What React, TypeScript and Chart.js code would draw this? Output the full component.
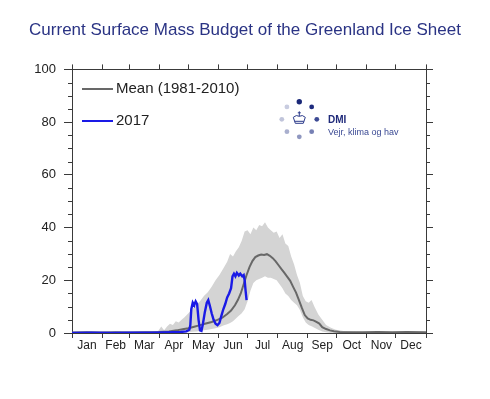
import React, { useEffect, useRef } from 'react';
import { Chart, registerables } from 'chart.js';

Chart.register(...registerables);

const TITLE = 'Current Surface Mass Budget of the Greenland Ice Sheet';
const MONTHS = ['Jan', 'Feb', 'Mar', 'Apr', 'May', 'Jun', 'Jul', 'Aug', 'Sep', 'Oct', 'Nov', 'Dec'];
const MONTH_STARTS = [0, 31, 59, 90, 120, 151, 181, 212, 243, 273, 304, 334, 365];
const Y_MAJOR = [0, 20, 40, 60, 80, 100];
const LEGEND_MEAN = 'Mean (1981-2010)';
const LEGEND_YEAR = '2017';

// [day of year, value]
const meanCurve: [number, number][] = [
  [0, 0.2], [15, 0.3], [30, 0.2], [45, 0.3], [60, 0.2], [75, 0.3], [90, 0.4], [100, 0.6],
  [108, 1.0], [114, 1.4], [120, 1.8], [126, 2.4], [132, 3.0], [138, 3.6], [144, 4.2],
  [150, 5.0], [155, 5.8], [160, 7.2], [164, 8.5], [168, 10.5], [171, 12.5], [174, 15],
  [177, 18.5], [180, 22], [183, 25], [186, 27.3], [189, 28.8], [192, 29.4], [195, 29.8],
  [198, 29.6], [201, 29.9], [204, 29.3], [207, 28.4], [210, 27.2], [213, 25.7], [216, 24.2],
  [219, 22.8], [222, 21.3], [225, 19.8], [228, 17.5], [231, 15.3], [234, 12.5], [237, 9.5],
  [240, 6.8], [243, 5.5], [246, 5.0], [249, 4.8], [252, 4.2], [255, 3.6], [258, 2.2],
  [262, 1.5], [266, 1.0], [270, 0.7], [276, 0.4], [285, 0.3], [300, 0.3], [315, 0.4],
  [330, 0.3], [345, 0.4], [365, 0.3],
];

// [day of year, low, high]
const rangeBand: [number, number, number][] = [
  [0, 0, 0.3], [88, 0, 0.3], [92, 0, 2.5], [95, 0, 1], [98, 0, 2.5], [101, 0, 3.5], [104, 0, 3],
  [107, 0, 4.5], [110, 0, 4], [113, 0, 5], [116, 0.2, 6], [120, 0.3, 7.5], [124, 0.5, 9],
  [128, 0.6, 10.5], [132, 0.8, 12], [136, 1, 14], [140, 1.2, 15.5], [144, 1.5, 17.5],
  [148, 1.8, 20], [152, 2.2, 22], [156, 2.8, 24.5], [160, 3.3, 27], [163, 3.8, 30],
  [166, 4.5, 29], [169, 5.5, 31], [172, 6.5, 32.5], [175, 7.5, 35], [178, 9, 38.5],
  [181, 12, 39], [184, 16, 37.5], [187, 19, 40], [190, 20, 39], [193, 20.5, 41],
  [196, 21, 40.5], [199, 21.5, 42], [202, 21, 40], [205, 21, 39], [208, 20.5, 38],
  [211, 20, 38.5], [214, 18.5, 36], [217, 17, 37.5], [220, 15, 34], [223, 14, 33],
  [226, 12.5, 29], [229, 11.5, 26], [232, 10.5, 22], [235, 8.7, 19], [238, 6, 14],
  [241, 4, 12], [244, 3, 11.5], [247, 2.6, 12.5], [250, 2, 10], [254, 1.2, 7],
  [258, 0.6, 5], [262, 0.3, 3], [267, 0, 2], [272, 0, 1.2], [280, 0, 0.8], [290, 0, 0.5],
  [300, 0, 0.4], [365, 0, 0.4],
];

// [day of year, value]
const year2017: [number, number][] = [
  [0, 0], [20, 0.1], [40, 0], [60, 0.1], [80, 0.1], [95, 0.2], [105, 0.3], [112, 0.4],
  [118, 0.6], [121, 1.2], [122, 3], [123, 9], [124.5, 11.5], [126, 10.5], [127.5, 12],
  [129, 11], [130.5, 5], [132, 1], [133.5, 0.8], [135, 3.5], [137, 8], [139, 11.5],
  [140.5, 12.5], [142, 10.5], [144, 7.5], [146, 5], [148, 3.5], [150, 3], [152, 3.8],
  [154, 6.5], [156, 9], [158, 11], [160, 13.5], [162, 15], [164, 17], [165.5, 21.5],
  [167, 22.5], [168.5, 21.5], [170, 22.8], [172, 21.8], [173.5, 22.5], [175.5, 21.5],
  [177, 22], [178, 20], [179, 16], [180, 12.5],
];

const FONT = '"Liberation Sans", Arial, Helvetica, sans-serif';
const AXIS_COLOR = '#3a3a3a';
const MEAN_COLOR = '#686868';
const YEAR_COLOR = '#1a1ae6';
const BAND_COLOR = '#d4d4d4';

const X_TICKS: number[] = [];
MONTH_STARTS.forEach((s, i) => {
  X_TICKS.push(s);
  if (i < MONTH_STARTS.length - 1) X_TICKS.push((s + MONTH_STARTS[i + 1]) / 2);
});

const decorPlugin = {
  id: 'decor',
  afterDraw(chart: any) {
    const ctx = chart.ctx as CanvasRenderingContext2D;
    const area = chart.chartArea;
    const y = chart.scales.y;
    ctx.save();
    // minor y ticks
    ctx.strokeStyle = AXIS_COLOR;
    ctx.lineWidth = 1;
    for (let v = 0; v <= 100; v += 5) {
      if (Y_MAJOR.includes(v)) continue;
      const py = Math.round(y.getPixelForValue(v)) + 0.5;
      ctx.beginPath();
      ctx.moveTo(area.left - 4, py);
      ctx.lineTo(area.left, py);
      ctx.moveTo(area.right, py);
      ctx.lineTo(area.right + 4, py);
      ctx.stroke();
    }
    // legend
    const lx = area.left + 10;
    const items: [string, string, number][] = [
      [LEGEND_MEAN, MEAN_COLOR, 92.5],
      [LEGEND_YEAR, YEAR_COLOR, 80.5],
    ];
    ctx.font = `15px ${FONT}`;
    ctx.textBaseline = 'middle';
    ctx.textAlign = 'left';
    items.forEach(([label, color, val]) => {
      const py = Math.round(y.getPixelForValue(val));
      ctx.strokeStyle = color;
      ctx.lineWidth = 2;
      ctx.beginPath();
      ctx.moveTo(lx, py);
      ctx.lineTo(lx + 31, py);
      ctx.stroke();
      ctx.fillStyle = '#222';
      ctx.fillText(label, lx + 34, py);
    });
    // DMI logo
    const cx = 299.3;
    const cy = 119.3;
    const r = 17.5;
    const dotColors = ['#1a2878', '#1e2b7e', '#3d4a94', '#7680b4', '#8f97c0', '#a9afce', '#c0c4da', '#c8cce0'];
    dotColors.forEach((c, i) => {
      const a = -Math.PI / 2 + (i * Math.PI) / 4;
      ctx.fillStyle = c;
      ctx.beginPath();
      ctx.arc(cx + r * Math.cos(a), cy + r * Math.sin(a), i === 0 ? 2.7 : 2.4, 0, Math.PI * 2);
      ctx.fill();
    });
    ctx.strokeStyle = '#2b3a8a';
    ctx.lineWidth = 1;
    ctx.beginPath();
    ctx.moveTo(cx - 6, cy - 2);
    ctx.quadraticCurveTo(cx - 3, cy - 5, cx, cy - 3);
    ctx.quadraticCurveTo(cx + 3, cy - 5, cx + 6, cy - 2);
    ctx.lineTo(cx + 4, cy + 4);
    ctx.lineTo(cx - 4, cy + 4);
    ctx.closePath();
    ctx.moveTo(cx - 4.5, cy + 2);
    ctx.lineTo(cx + 4.5, cy + 2);
    ctx.moveTo(cx, cy - 3);
    ctx.lineTo(cx, cy - 8);
    ctx.moveTo(cx - 1.5, cy - 6.5);
    ctx.lineTo(cx + 1.5, cy - 6.5);
    ctx.stroke();
    ctx.fillStyle = '#1f2a7a';
    ctx.font = `bold 10px ${FONT}`;
    ctx.fillText('DMI', 328, 120);
    ctx.fillStyle = '#3b4a94';
    ctx.font = `9px ${FONT}`;
    ctx.fillText('Vejr, klima og hav', 328, 132.5);
    ctx.restore();
  },
};

export default function App() {
  const ref = useRef<HTMLCanvasElement>(null);
  useEffect(() => {
    const majorTickColor = (c: any) => (Y_MAJOR.includes(c.tick?.value) ? AXIS_COLOR : 'rgba(0,0,0,0)');
    const chart = new Chart(ref.current as HTMLCanvasElement, {
      type: 'line',
      data: {
        datasets: [
          {
            label: LEGEND_YEAR,
            data: year2017.map(([x, v]) => ({ x, y: v })),
            borderColor: YEAR_COLOR,
            borderWidth: 2.4,
            pointRadius: 0,
            tension: 0,
            fill: false,
          },
          {
            label: LEGEND_MEAN,
            data: meanCurve.map(([x, v]) => ({ x, y: v })),
            borderColor: MEAN_COLOR,
            borderWidth: 2,
            pointRadius: 0,
            tension: 0,
            fill: false,
          },
          {
            label: 'max',
            data: rangeBand.map(([x, , hi]) => ({ x, y: hi })),
            borderWidth: 0,
            borderColor: 'rgba(0,0,0,0)',
            backgroundColor: BAND_COLOR,
            pointRadius: 0,
            tension: 0,
            fill: 3,
          },
          {
            label: 'min',
            data: rangeBand.map(([x, lo]) => ({ x, y: lo })),
            borderWidth: 0,
            borderColor: 'rgba(0,0,0,0)',
            pointRadius: 0,
            tension: 0,
            fill: false,
          },
        ],
      },
      options: {
        responsive: false,
        animation: false,
        devicePixelRatio: 1,
        layout: { padding: 0 },
        plugins: {
          legend: { display: false },
          tooltip: { enabled: false },
          title: {
            display: true,
            text: TITLE,
            color: '#2a3384',
            font: { size: 17, family: FONT, weight: 'normal' },
            padding: { top: 20, bottom: 19 },
          },
        },
        scales: {
          x: {
            type: 'linear',
            position: 'bottom',
            min: 0,
            max: 365,
            afterBuildTicks: (s: any) => {
              s.ticks = X_TICKS.map((v) => ({ value: v }));
            },
            afterFit: (s: any) => {
              s.height = 66;
            },
            ticks: {
              autoSkip: false,
              maxRotation: 0,
              padding: 0,
              color: '#222',
              font: { size: 12, family: FONT },
              callback: (_v: any, i: number) => (i % 2 === 1 ? MONTHS[(i - 1) / 2] : ''),
            },
            grid: {
              drawOnChartArea: false,
              tickLength: 5,
              tickColor: (c: any) => (c.index % 2 === 0 ? AXIS_COLOR : 'rgba(0,0,0,0)'),
            },
            border: { color: AXIS_COLOR, width: 1 },
          },
          x2: {
            type: 'linear',
            position: 'top',
            min: 0,
            max: 365,
            afterBuildTicks: (s: any) => {
              s.ticks = MONTH_STARTS.map((v) => ({ value: v }));
            },
            afterFit: (s: any) => {
              s.height = 10;
            },
            ticks: { display: false },
            grid: { drawOnChartArea: false, tickLength: 5, tickColor: AXIS_COLOR },
            border: { color: AXIS_COLOR, width: 1 },
          },
          y: {
            type: 'linear',
            position: 'left',
            min: 0,
            max: 100,
            afterFit: (s: any) => {
              s.width = 72;
            },
            ticks: {
              stepSize: 5,
              autoSkip: false,
              padding: 8,
              color: '#222',
              font: { size: 13, family: FONT },
              callback: (v: any) => (Y_MAJOR.includes(Number(v)) ? String(v) : ''),
            },
            grid: { drawOnChartArea: false, tickLength: 8, tickColor: majorTickColor },
            border: { color: AXIS_COLOR, width: 1 },
          },
          y2: {
            type: 'linear',
            position: 'right',
            min: 0,
            max: 100,
            afterFit: (s: any) => {
              s.width = 64;
            },
            ticks: { stepSize: 5, autoSkip: false, display: false },
            grid: { drawOnChartArea: false, tickLength: 7, tickColor: majorTickColor },
            border: { color: AXIS_COLOR, width: 1 },
          },
        },
      } as any,
      plugins: [decorPlugin],
    });
    return () => chart.destroy();
  }, []);
  return (
    <div style={{ position: 'absolute', left: 0, top: 0, width: 490, height: 399, background: '#fff' }}>
      <canvas ref={ref} width={490} height={399} style={{ display: 'block', width: 490, height: 399 }} />
    </div>
  );
}
